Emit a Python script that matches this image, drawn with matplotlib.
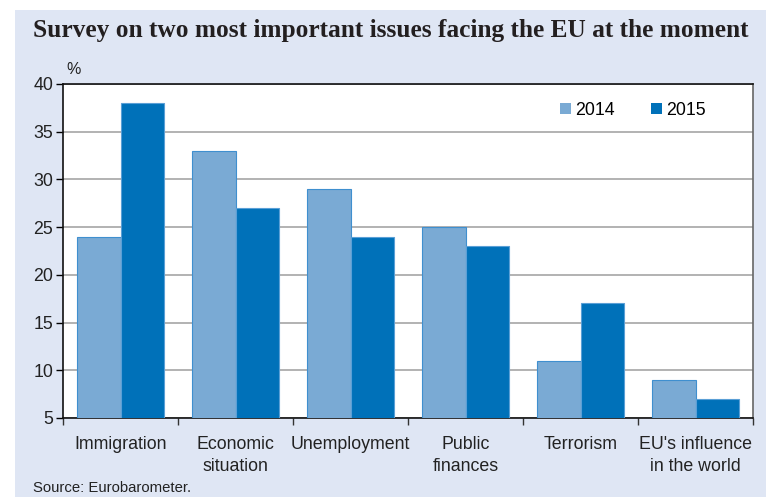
import matplotlib.pyplot as plt
import numpy as np
from matplotlib.patches import Rectangle

plt.rcParams['font.family'] = ['Liberation Sans', 'DejaVu Sans']

# Data
categories = ['Immigration', 'Economic\nsituation', 'Unemployment',
              'Public\nfinances', 'Terrorism', "EU's influence\nin the world"]
values_2014 = [24, 33, 29, 25, 11, 9]
values_2015 = [38, 27, 24, 23, 17, 7]
years = ['2014', '2015']

fig = plt.figure(figsize=(7.66, 4.97), dpi=100)
fig.patch.set_facecolor('white')

# light blue panel behind everything
fig.patches.append(Rectangle((15 / 766, 0), 1, 1 - 10 / 497, transform=fig.transFigure,
                             facecolor='#dfe6f4', edgecolor='none', zorder=-10))

ax = fig.add_axes([63 / 766, 1 - 418 / 497, 690 / 766, 334 / 497])
ax.set_facecolor('white')

x = np.arange(len(categories))
w = 0.375
ax.bar(x - w / 2, values_2014, w, bottom=0, color='#7aaad4', edgecolor='#3f8fcf',
       linewidth=0.8, label=years[0], zorder=3)
ax.bar(x + w / 2, values_2015, w, bottom=0, color='#0071b9', edgecolor='#5a9fd6',
       linewidth=0.8, label=years[1], zorder=3)

ax.set_ylim(5, 40)
ax.set_xlim(-0.5, len(categories) - 0.5)
ax.set_yticks(range(5, 41, 5))
ax.yaxis.grid(True, color='#a6a6a6', linewidth=1.2, zorder=1)
ax.set_axisbelow(True)

ax.set_xticks(x)
ax.set_xticklabels(categories, fontsize=12.8, color='#222222', linespacing=1.35)
ax.set_xticks(np.arange(-0.5, len(categories), 1), minor=True)
ax.tick_params(axis='x', which='major', length=0, pad=13)
ax.tick_params(axis='x', which='minor', length=5, width=1, direction='out', color='#333333')
ax.tick_params(axis='y', length=5, width=1, direction='out', labelsize=12.8,
               labelcolor='#222222', pad=2)

for s in ['left', 'bottom', 'top']:
    ax.spines[s].set_color('#111111')
    ax.spines[s].set_linewidth(1.2)
ax.spines['right'].set_color('#666666')
ax.spines['right'].set_linewidth(1.2)

leg = ax.legend(loc='upper right', bbox_to_anchor=(0.955, 0.995), ncol=2, frameon=False,
                fontsize=12.8, handlelength=0.6, handleheight=0.6, handletextpad=0.25,
                columnspacing=2.05)
for h in leg.legend_handles:
    h.set_edgecolor('none')

fig.text(33 / 766, 1 - 31 / 497, 'Survey on two most important issues facing the EU at the moment',
         fontsize=18.3, fontweight='bold', family='Liberation Serif', color='#231f20',
         va='center', ha='left')
fig.text(66 / 766, 1 - 70 / 497, '%', fontsize=11.5, color='#222222', va='center', ha='left')
fig.text(33 / 766, 1 - 488 / 497, 'Source: Eurobarometer.', fontsize=10.7,
         color='#222222', va='center', ha='left')

fig.savefig('out.png', dpi=100)
